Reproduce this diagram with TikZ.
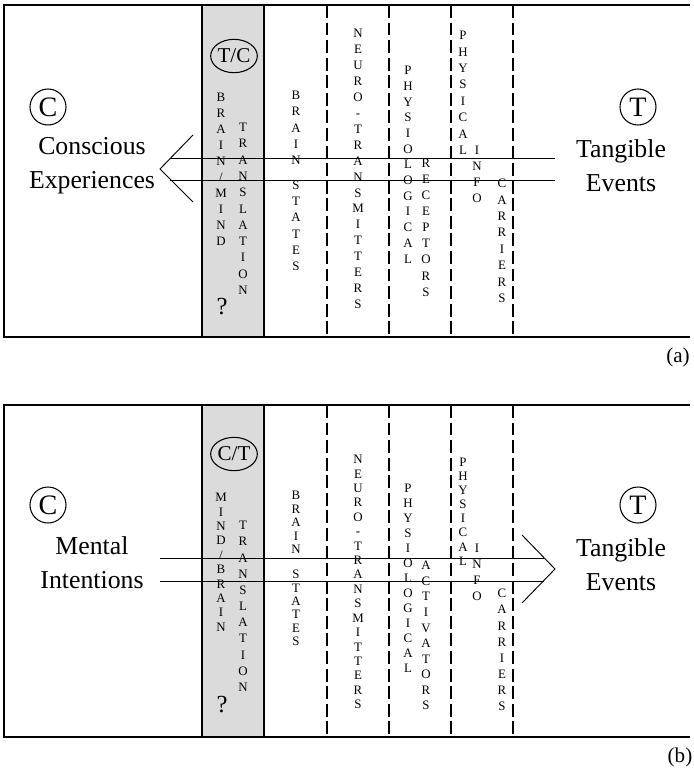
\documentclass[tikz,border=0pt]{standalone}
\usepackage{fontspec}
\setmainfont{Liberation Serif}
\usetikzlibrary{shapes.geometric}

\tikzset{
  frameline/.style={line width=1.2pt},
  solidcol/.style={line width=1.6pt},
  dashcol/.style={line width=1.6pt, dash pattern=on 11pt off 4pt},
  flowline/.style={line width=0.8pt},
  vtext/.style={font=\fontsize{11}{#1}\selectfont, align=center, anchor=north, inner sep=0pt},
  vtext/.default=13.7pt,
  bigtext/.style={font=\fontsize{22}{29}\selectfont, align=center, inner sep=0pt},
  letterring/.style={draw, circle, line width=0.9pt, minimum size=1.08cm, inner sep=0pt, font=\fontsize{24}{24}\selectfont},
  transring/.style={draw, ellipse, line width=0.9pt, minimum width=1.4cm, minimum height=1.0cm, inner sep=0pt, font=\fontsize{18}{18}\selectfont},
  panellabel/.style={font=\fontsize{18}{18}\selectfont, inner sep=0pt}
}

\begin{document}
\begin{tikzpicture}[x=0.03cm, y=-0.03cm]
\useasboundingbox (0,0) rectangle (694,774);

% ---------------- panel (a) ----------------
\fill [black!14] (202,5) rectangle (264,337);
\draw [frameline] (690,5) -- (4,5) -- (4,337) -- (690,337);
\draw [solidcol] (202,5) -- (202,337);
\draw [solidcol] (264,5) -- (264,337);
\foreach \x in {327,389,451,513}
  \draw [dashcol] (\x,5) -- (\x,337);

\node [letterring] (ca) at (48,107) {C};
\node [letterring] (ta) at (638,107) {T};
\node [bigtext] (cea) at (92,166) {Conscious\\Experiences};
\node [bigtext] (tea) at (621,166) {Tangible\\Events};
\node [transring] (tca) at (234,56) {T/C};

\node [vtext=13.6pt] (bma) at (221,93) {B\\R\\A\\I\\N\\/\\M\\I\\N\\D};
\node [vtext=13.9pt] (tra) at (243,123) {T\\R\\A\\N\\S\\L\\A\\T\\I\\O\\N};
\node [font=\fontsize{21}{21}\selectfont, inner sep=0pt] (qa) at (222,307) {?};
\node [vtext=13.8pt] (bsa) at (296,91) {B\\R\\A\\I\\N\\[7.7pt]S\\T\\A\\T\\E\\S};
\node [vtext=13.6pt] (nta) at (358,29) {N\\E\\U\\R\\O\\-\\T\\R\\A\\N\\S\\M\\I\\T\\T\\E\\R\\S};
\node [vtext=13.4pt] (pla) at (408,66) {P\\H\\Y\\S\\I\\O\\L\\O\\G\\I\\C\\A\\L};
\node [vtext=13.7pt] (rca) at (426,159) {R\\E\\C\\E\\P\\T\\O\\R\\S};
\node [vtext=14pt] (pya) at (463,31) {P\\H\\Y\\S\\I\\C\\A\\L};
\node [vtext=13.7pt] (ifa) at (477,146) {I\\N\\F\\O};
\node [vtext=14pt] (cra) at (502,179) {C\\A\\R\\R\\I\\E\\R\\S};

% arrow from T to C
\coordinate (a1) at (555,158);
\coordinate (a2) at (555,180);
\coordinate (a3) at (170,158);
\coordinate (a4) at (170,180);
\coordinate (ahu) at (193,135);
\coordinate (aht) at (160,169);
\coordinate (ahl) at (193,202);
\draw [flowline] (a1) -- (a3);
\draw [flowline] (a2) -- (a4);
\draw [flowline] (ahu) -- (aht) -- (ahl);

\node [panellabel] (la) at (678,357) {(a)};

% ---------------- panel (b) ----------------
\fill [black!14] (202,405) rectangle (264,737);
\draw [frameline] (690,405) -- (4,405) -- (4,737) -- (690,737);
\draw [solidcol] (202,405) -- (202,737);
\draw [solidcol] (264,405) -- (264,737);
\foreach \x in {327,389,451,513}
  \draw [dashcol] (\x,405) -- (\x,737);

\node [letterring] (cb) at (48,505) {C};
\node [letterring] (tb) at (638,505) {T};
\node [bigtext] (mib) at (92,563) {Mental\\Intentions};
\node [bigtext] (teb) at (621,565) {Tangible\\Events};
\node [transring] (ctb) at (234,454) {C/T};

\node [vtext=12.3pt] (mbb) at (221,493) {M\\I\\N\\D\\/\\B\\R\\A\\I\\N};
\node [vtext=13.8pt] (trb) at (243,521) {T\\R\\A\\N\\S\\L\\A\\T\\I\\O\\N};
\node [font=\fontsize{21}{21}\selectfont, inner sep=0pt] (qb) at (222,705) {?};
\node [vtext=11.5pt] (bsb) at (296,491) {B\\R\\A\\I\\N\\[9.8pt]S\\T\\A\\T\\E\\S};
\node [vtext=12.3pt] (ntb) at (358,455) {N\\E\\U\\R\\O\\-\\T\\R\\A\\N\\S\\M\\I\\T\\T\\E\\R\\S};
\node [vtext=12.8pt] (plb) at (408,484) {P\\H\\Y\\S\\I\\O\\L\\O\\G\\I\\C\\A\\L};
\node [vtext=13.3pt] (acb) at (426,561) {A\\C\\T\\I\\V\\A\\T\\O\\R\\S};
\node [vtext=12pt] (pyb) at (463,458) {P\\H\\Y\\S\\I\\C\\A\\L};
\node [vtext=13.7pt] (ifb) at (477,544) {I\\N\\F\\O};
\node [vtext=13.8pt] (crb) at (502,589) {C\\A\\R\\R\\I\\E\\R\\S};

% arrow from C to T
\coordinate (b1) at (160,558);
\coordinate (b2) at (160,581);
\coordinate (b3) at (544,558);
\coordinate (b4) at (544,581);
\coordinate (bhu) at (522,535);
\coordinate (bht) at (555,569);
\coordinate (bhl) at (522,603);
\draw [flowline] (b1) -- (b3);
\draw [flowline] (b2) -- (b4);
\draw [flowline] (bhu) -- (bht) -- (bhl);

\node [panellabel] (lb) at (680,757) {(b)};

\end{tikzpicture}
\end{document}
